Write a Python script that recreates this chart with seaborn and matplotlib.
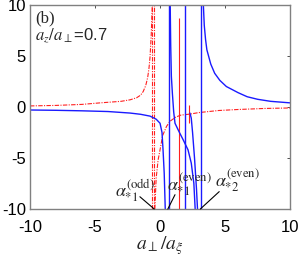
import numpy as np
import pandas as pd
import matplotlib
matplotlib.use("Agg")
import matplotlib.pyplot as plt
import seaborn as sns

# values (x = a_perp/a_xi)
# blue solid branches
b1_x = [-10, -8, -6, -4, -2.3, -1.5, -0.77, -0.3, 0.0, 0.15, 0.23, 0.32, 0.4]
b1_y = [-0.3, -0.33, -0.38, -0.45, -0.6, -0.72, -0.9, -1.2, -1.6, -2.5, -4.2, -6.5, -10]
b2_x = [0.78, 0.82, 0.87, 0.95, 1.05, 1.15, 1.45, 1.77, 2.15, 2.4, 2.6, 2.7]
b2_y = [10, 6, 3, 1.3, -0.5, -1.6, -2.4, -3.2, -4.2, -5.5, -7.5, -10]
b3_x = [2.3, 2.4, 2.5, 2.65, 2.8, 2.88]
b3_y = [-0.6, -1.1, -2.5, -5.0, -8.0, -10]
b4_x = [3.33, 3.4, 3.5, 3.6, 3.9, 4.2, 4.6, 5.1, 6.0, 6.7, 7.5, 8.5, 10]
b4_y = [10, 8.0, 6.6, 5.6, 4.2, 3.3, 2.6, 2.0, 1.4, 1.0, 0.75, 0.55, 0.4]
blue_poles = [0.69, 1.92, 3.15]

# red dash-dot branches
r1_x = [-10, -8, -6, -4.6, -3, -2.3, -1.8, -1.5, -1.3, -1.1, -0.95, -0.85, -0.77, -0.68, -0.6]
r1_y = [0.1, 0.15, 0.25, 0.4, 0.55, 0.7, 0.9, 1.15, 1.5, 2.1, 2.9, 3.8, 4.9, 7.0, 10]
r2_x = [-0.4, -0.3, -0.15, 0.0, 0.2, 0.5, 0.77, 1.2, 1.6, 2.3, 3.0, 4.5, 6, 8, 10]
r2_y = [-10, -7, -5.2, -4.2, -2.8, -1.9, -1.4, -1.0, -0.8, -0.7, -0.55, -0.35, -0.25, -0.15, -0.1]
red_poles = [-0.6, -0.45]
spike_x = [1.46, 2.2]
spike_top = [8.7, 0.2]
spike_bot = [-10, -1.6]

# labels of the marked roots, with pointer lines
notes = [r"$\alpha_{*1}^{(\mathrm{odd})}$", r"$\alpha_{*1}^{(\mathrm{even})}$",
         r"$\alpha_{*2}^{(\mathrm{even})}$"]
note_txt_x = [-3.5, 0.55, 4.2]
note_txt_y = [-8.8, -8.2, -7.8]
line_start_x = [-1.55, 1.15, 4.55]
line_start_y = [-8.8, -8.6, -8.3]
line_tip_x = [-0.45, 0.6, 3.1]


def branches(xs, ys):
    parts = []
    for i, (x, y) in enumerate(zip(xs, ys)):
        parts.append(pd.DataFrame({"x": x, "y": y, "branch": i}))
    return pd.concat(parts, ignore_index=True)


blue = branches([b1_x, b2_x, b3_x, b4_x], [b1_y, b2_y, b3_y, b4_y])
red = branches([r1_x, r2_x], [r1_y, r2_y])

sns.set_style("white")
plt.rcParams["font.family"] = ["Liberation Sans", "DejaVu Sans"]
plt.rcParams["mathtext.fontset"] = "stix"
plt.rcParams["axes.unicode_minus"] = False

fig = plt.figure(figsize=(3.0, 2.58), dpi=100)
ax = fig.add_axes([0.1, 0.19, 0.867, 0.791])

dashdot = (0, (4, 1.2, 1, 1.2))
sns.lineplot(data=red, x="x", y="y", units="branch", estimator=None, sort=False,
             color="#ff2020", lw=0.8, ls=dashdot, ax=ax)
ax.vlines(red_poles, -10, 10, color="#ff2020", lw=0.8, ls=dashdot)
ax.vlines(spike_x, spike_bot, spike_top, color="#ff2020", lw=0.8)
sns.lineplot(data=blue, x="x", y="y", units="branch", estimator=None, sort=False,
             color="#1a1aff", lw=1.0, ax=ax)
ax.vlines(blue_poles, -10, 10, color="#1a1aff", lw=1.0)

ax.set_xlim(-10, 10)
ax.set_ylim(-10, 10)
ax.set_xticks([-10, -5, 0, 5, 10])
ax.set_yticks([-10, -5, 0, 5, 10])
ax.tick_params(direction="in", length=2.5, width=0.6, labelsize=12,
               top=True, right=True, colors="#333333", labelcolor="black")
ax.tick_params(axis="x", pad=8)
ax.tick_params(axis="y", pad=3)
for s in ax.spines.values():
    s.set_color("#808080")
    s.set_linewidth(1.0)

ax.set_xlabel(r"$a_{\perp}/a_{\xi}$", fontsize=14, labelpad=-1)
ax.set_ylabel("")

ax.text(0.02, 0.975, "(b)", transform=ax.transAxes, family="Liberation Serif",
        fontsize=12, va="top", ha="left")
ax.text(0.02, 0.85, r"$a_z/a_{\perp}$=0.7", transform=ax.transAxes,
        fontsize=12, va="center", ha="left")

for label, xx, yy in zip(notes, note_txt_x, note_txt_y):
    ax.text(xx, yy, label, fontsize=13, ha="left", va="baseline")
for x0, y0, x1 in zip(line_start_x, line_start_y, line_tip_x):
    ax.annotate("", xy=(x1, -10), xytext=(x0, y0), annotation_clip=False,
                arrowprops=dict(arrowstyle="-", color="black", lw=0.8,
                                shrinkA=0, shrinkB=0))

fig.savefig("out.png", dpi=100)
